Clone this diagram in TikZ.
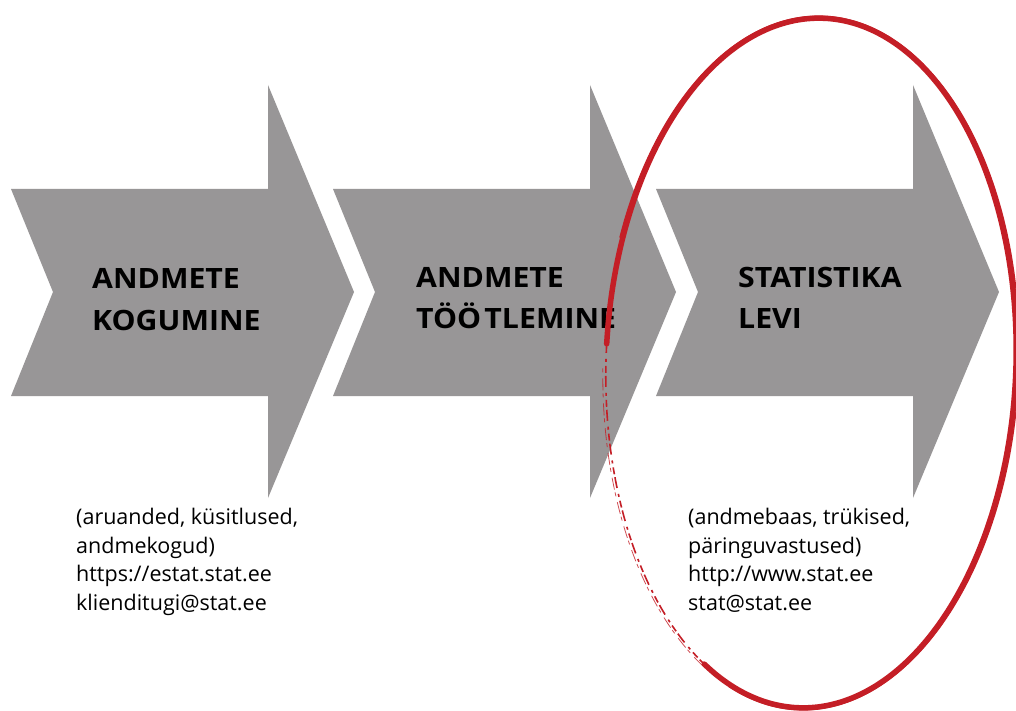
\documentclass[tikz,border=0pt]{standalone}
\usepackage{fontspec}
\setmainfont{Open Sans}
\usetikzlibrary{calc}
\definecolor{arrowgray}{RGB}{152,150,151}
\definecolor{brushred}{RGB}{196,30,38}
\tikzset{
  chevron/.style={fill=arrowgray, draw=none},
  title/.style={anchor=base west, inner sep=0pt, font=\fontsize{28}{28}\selectfont\bfseries},
  caption/.style={anchor=north west, inner sep=0pt, align=left,
    font=\fontsize{21.5}{28.5}\selectfont},
  brush/.style={draw=brushred, line width=5.5pt, line cap=round},
  scratch/.style={draw=brushred, line width=1.6pt, dash pattern=on 7pt off 4pt on 3pt off 6pt on 11pt off 3pt},
  scratchb/.style={draw=brushred, line width=0.8pt, opacity=0.8, dash pattern=on 12pt off 6pt on 4pt off 3pt}
}
% one chevron arrow, shifted horizontally by #1
\newcommand{\chevronarrow}[2]{%
  \fill[chevron] ($(#1,0)+(11,189)$) coordinate (#2-nw) -- ++(257,0) -- ++(0,-104)
    -- ++(86,207) coordinate (#2-tip) -- ++(-86,206) -- ++(0,-102) -- ++(-257,0)
    -- ++(42,-104) coordinate (#2-notch) -- cycle;}
% wide bold lettering
\newcommand{\wide}[1]{\scalebox{1.08}[1]{#1}}
\begin{document}
\begin{tikzpicture}[x=1pt, y=-1pt]
  \useasboundingbox (0,0) rectangle (1016,711);
  \fill[white] (0,0) rectangle (1016,711);

  % the three process steps
  \chevronarrow{0}{a1}
  \chevronarrow{322}{a2}
  \chevronarrow{645}{a3}

  \node[title] (t1a) at (92,288) {\wide{ANDMETE}};
  \node[title] (t1b) at (92,330) {\wide{KOGUMINE}};
  \node[title] (t2a) at (416,287) {\wide{ANDMETE}};
  \node[title] (t2b) at (416,328) {\wide{TÖÖ\kern3pt TLEMINE}};
  \node[title] (t3a) at (738,287) {\wide{STATISTIKA}};
  \node[title] (t3b) at (738,328) {\wide{LEVI}};

  \node[caption] (c1) at (76,508) {(aruanded, küsitlused,\\andmekogud)\\https://estat.stat.ee\\klienditugi@stat.ee};
  \node[caption] (c3) at (688,508) {(andmebaas, trükised,\\päringuvastused)\\http://www.stat.ee\\stat@stat.ee};

  % hand-drawn ring around the last step
  \begin{scope}[shift={(811,363)}, rotate=-2]
    \draw[brush] plot[smooth, domain=182:478, samples=90] ({205*cos(\x)},{345*sin(\x)});
    \draw[brushred, line width=1.2pt] plot[smooth, domain=200:470, samples=80] ({208*cos(\x)},{347*sin(\x)});
    \draw[scratch] plot[smooth, domain=112:188, samples=40] ({205*cos(\x)},{345*sin(\x)});
    \draw[scratchb] plot[smooth, domain=118:178, samples=30] ({208*cos(\x)},{347*sin(\x)});
  \end{scope}
\end{tikzpicture}
\end{document}
